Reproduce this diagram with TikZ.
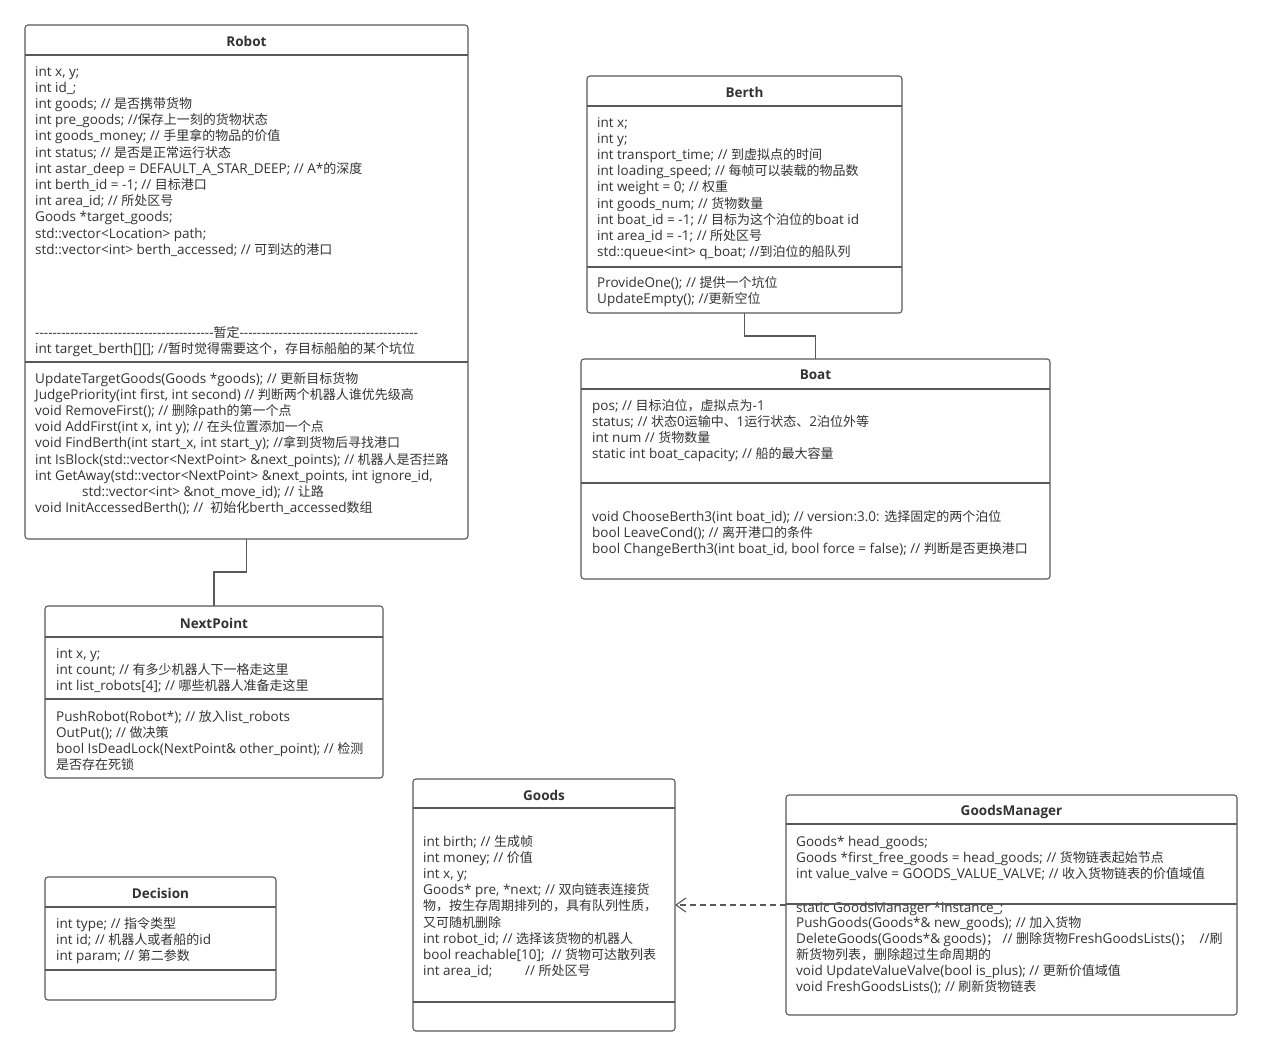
\documentclass[tikz,border=0pt]{standalone}
\usepackage{fontspec}
\setmainfont{Open Sans}[Ligatures=TeXOff,Scale=1.04]
\newfontfamily\cjkfont{Noto Sans CJK SC}
\newcommand\zh[1]{{\cjkfont #1}}
\usepackage{tikz}
\usetikzlibrary{arrows.meta,positioning,calc}
\definecolor{linegray}{HTML}{595959}
\definecolor{txtgray}{HTML}{333333}

\begin{document}
\begin{tikzpicture}[x=1pt,y=-1pt,font=\fontsize{13}{16.2}\selectfont,>={Straight Barb[length=10pt,width=14pt]}]
\tikzstyle{classbox}=[draw=linegray,fill=white,line width=1.1pt,rounded corners=3pt,inner sep=0pt,outer sep=0pt,anchor=north west]
\tikzstyle{classname}=[font=\fontsize{13}{16.2}\selectfont\bfseries,text=txtgray,inner sep=0pt]
\tikzstyle{members}=[align=left,anchor=north west,inner sep=0pt,text=txtgray]
\tikzstyle{divider}=[draw=linegray,line width=1.1pt]
\tikzstyle{assoc}=[draw=linegray,line width=1.1pt]
\tikzstyle{depends}=[draw=linegray,line width=1.1pt,dash pattern=on 6pt off 4pt,->]
\fill[white] (0,0) rectangle (1261,1057);
\useasboundingbox (0,0) rectangle (1261,1057);

\node[classbox,minimum width=443,minimum height=514] (robot) at (25,25) {};
\node[classname,yshift=-16pt] (robotname) at (robot.north) {Robot};
\draw[divider] ([yshift=-30pt]robot.north west) -- ([yshift=-30pt]robot.north east);
\node[members] (robotattr) at ([xshift=10pt,yshift=-41pt]robot.north west) {int x, y;\\
int id\_;\\
int goods; // \zh{是否携带货物}\\
int pre\_goods; //\zh{保存上一刻的货物状态}\\
int goods\_money; // \zh{手里拿的物品的价值}\\
int status; // \zh{是否是正常运行状态}\\
int astar\_deep = DEFAULT\_A\_STAR\_DEEP; // A*\zh{的深度}\\
int berth\_id = -1; // \zh{目标港口}\\
int area\_id; // \zh{所处区号}\\
Goods *target\_goods;\\
std::vector<Location> path;\\
std::vector<int> berth\_accessed; // \zh{可到达的港口}};
\node[members] (robotdraft) at ([xshift=10pt,yshift=-301pt]robot.north west) {-----------------------------------------\zh{暂定}-----------------------------------------\\
int target\_berth[][]; //\zh{暂时觉得需要这个，存目标船舶的某个坑位}};
\draw[divider] ([yshift=-337pt]robot.north west) -- ([yshift=-337pt]robot.north east);
\node[members] (robotops) at ([xshift=10pt,yshift=-347pt]robot.north west) {UpdateTargetGoods(Goods *goods); // \zh{更新目标货物}\\
JudgePriority(int first, int second) // \zh{判断两个机器人谁优先级高}\\
void RemoveFirst(); // \zh{删除}path\zh{的第一个点}\\
void AddFirst(int x, int y); // \zh{在头位置添加一个点}\\
void FindBerth(int start\_x, int start\_y); //\zh{拿到货物后寻找港口}\\
int IsBlock(std::vector<NextPoint> \&next\_points); // \zh{机器人是否拦路}\\
int GetAway(std::vector<NextPoint> \&next\_points, int ignore\_id,\\
\hspace*{47pt}std::vector<int> \&not\_move\_id); // \zh{让路}\\
void InitAccessedBerth(); //~ \zh{初始化}berth\_accessed\zh{数组}};

\node[classbox,minimum width=315,minimum height=237] (berth) at (587,76) {};
\node[classname,yshift=-16pt] (berthname) at (berth.north) {Berth};
\draw[divider] ([yshift=-30pt]berth.north west) -- ([yshift=-30pt]berth.north east);
\node[members] (berthattr) at ([xshift=10pt,yshift=-41pt]berth.north west) {int x;\\
int y;\\
int transport\_time; // \zh{到虚拟点的时间}\\
int loading\_speed; // \zh{每帧可以装载的物品数}\\
int weight = 0; // \zh{权重}\\
int goods\_num; // \zh{货物数量}\\
int boat\_id = -1; // \zh{目标为这个泊位的}boat id\\
int area\_id = -1; // \zh{所处区号}\\
std::queue<int> q\_boat; //\zh{到泊位的船队列}};
\draw[divider] ([yshift=-191pt]berth.north west) -- ([yshift=-191pt]berth.north east);
\node[members] (berthops) at ([xshift=10pt,yshift=-200pt]berth.north west) {ProvideOne(); // \zh{提供一个坑位}\\
UpdateEmpty(); //\zh{更新空位}};

\node[classbox,minimum width=469,minimum height=220] (boat) at (581,359) {};
\node[classname,yshift=-16pt] (boatname) at (boat.north) {Boat};
\draw[divider] ([yshift=-30pt]boat.north west) -- ([yshift=-30pt]boat.north east);
\node[members] (boatattr) at ([xshift=11pt,yshift=-40pt]boat.north west) {pos; // \zh{目标泊位，虚拟点为}-1\\
status; // \zh{状态}0\zh{运输中、}1\zh{运行状态、}2\zh{泊位外等}\\
int num // \zh{货物数量}\\
static int boat\_capacity; // \zh{船的最大容量}};
\draw[divider] ([yshift=-124pt]boat.north west) -- ([yshift=-124pt]boat.north east);
\node[members] (boatops) at ([xshift=11pt,yshift=-151pt]boat.north west) {void ChooseBerth3(int boat\_id); // version:3.0: \zh{选择固定的两个泊位}\\
bool LeaveCond(); // \zh{离开港口的条件}\\
bool ChangeBerth3(int boat\_id, bool force = false); // \zh{判断是否更换港口}};

\node[classbox,minimum width=338,minimum height=172] (nextpoint) at (45,606) {};
\node[classname,yshift=-17pt] (nextpointname) at (nextpoint.north) {NextPoint};
\draw[divider] ([yshift=-31pt]nextpoint.north west) -- ([yshift=-31pt]nextpoint.north east);
\node[members] (nextpointattr) at ([xshift=11pt,yshift=-42pt]nextpoint.north west) {int x, y;\\
int count; // \zh{有多少机器人下一格走这里}\\
int list\_robots[4]; // \zh{哪些机器人准备走这里}};
\draw[divider] ([yshift=-93pt]nextpoint.north west) -- ([yshift=-93pt]nextpoint.north east);
\node[members] (nextpointops) at ([xshift=11pt,yshift=-104pt]nextpoint.north west) {PushRobot(Robot*); // \zh{放入}list\_robots\\
OutPut(); // \zh{做决策}\\
bool IsDeadLock(NextPoint\& other\_point); // \zh{检测}\\
\zh{是否存在死锁}};

\node[classbox,minimum width=231,minimum height=123] (decision) at (45,877) {};
\node[classname,yshift=-16pt] (decisionname) at (decision.north) {Decision};
\draw[divider] ([yshift=-30pt]decision.north west) -- ([yshift=-30pt]decision.north east);
\node[members] (decisionattr) at ([xshift=11pt,yshift=-40pt]decision.north west) {int type; // \zh{指令类型}\\
int id; // \zh{机器人或者船的}id\\
int param; // \zh{第二参数}};
\draw[divider] ([yshift=-93pt]decision.north west) -- ([yshift=-93pt]decision.north east);

\node[classbox,minimum width=262,minimum height=252] (goods) at (413,779) {};
\node[classname,yshift=-16pt] (goodsname) at (goods.north) {Goods};
\draw[divider] ([yshift=-29pt]goods.north west) -- ([yshift=-29pt]goods.north east);
\node[members] (goodsattr) at ([xshift=10pt,yshift=-56pt]goods.north west) {int birth; // \zh{生成帧}\\
int money; // \zh{价值}\\
int x, y;\\
Goods* pre, *next; // \zh{双向链表连接货}\\
\zh{物，按生存周期排列的，具有队列性质，}\\
\zh{又可随机删除}\\
int robot\_id; // \zh{选择该货物的机器人}\\
bool reachable[10];~ // \zh{货物可达散列表}\\
\makebox[102pt][l]{int area\_id;}// \zh{所处区号}};
\draw[divider] ([yshift=-223pt]goods.north west) -- ([yshift=-223pt]goods.north east);

\node[classbox,minimum width=451,minimum height=220] (goodsmgr) at (786,795) {};
\node[classname,yshift=-17pt] (goodsmgrname) at (goodsmgr.north) {GoodsManager};
\draw[divider] ([yshift=-29pt]goodsmgr.north west) -- ([yshift=-29pt]goodsmgr.north east);
\node[members] (goodsmgrattr) at ([xshift=10pt,yshift=-41pt]goodsmgr.north west) {Goods* head\_goods;\\
Goods *first\_free\_goods = head\_goods; // \zh{货物链表起始节点}\\
int value\_valve = GOODS\_VALUE\_VALVE; // \zh{收入货物链表的价值域值}};
\node[members] (goodsmgrstatic) at ([xshift=10pt,yshift=-107pt]goodsmgr.north west) {static GoodsManager *instance\_;};
\draw[divider] ([yshift=-109pt]goodsmgr.north west) -- ([yshift=-109pt]goodsmgr.north east);
\node[members] (goodsmgrops) at ([xshift=10pt,yshift=-121pt]goodsmgr.north west) {PushGoods(Goods*\& new\_goods); // \zh{加入货物}\\
DeleteGoods(Goods*\& goods)\zh{；}~// \zh{删除货物}FreshGoodsLists()\zh{；}~~//\zh{刷}\\
\zh{新货物列表，删除超过生命周期的}\\
void UpdateValueValve(bool is\_plus); // \zh{更新价值域值}\\
void FreshGoodsLists(); // \zh{刷新货物链表}};

\draw[assoc] (robot.south) -- ++(0,33) -| (nextpoint.north);
\draw[assoc] (berth.south) -- ++(0,23) -| (boat.north);
\draw[depends] (goodsmgr.west) -- (goods.east);
\end{tikzpicture}
\end{document}
